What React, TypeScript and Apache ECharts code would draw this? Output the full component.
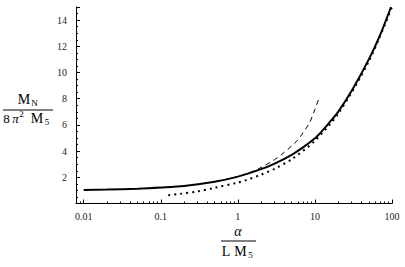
import React, { useEffect, useRef } from "react";
import * as echarts from "echarts";

// Data
const solidX = [0.01, 0.02, 0.05, 0.1, 0.2, 0.5, 1, 2, 3, 5, 7, 10, 12, 15, 20, 30, 50, 70, 97];
const solidY = [1.03, 1.06, 1.13, 1.22, 1.34, 1.66, 2.05, 2.62, 3.05, 3.72, 4.28, 4.98, 5.45, 6.1, 7.0, 8.6, 11.0, 12.85, 15.0];

const dashedX = [0.5, 1, 1.5, 2, 3, 4, 5, 6, 7, 8.5, 10, 11.5];
const dashedY = [1.66, 2.05, 2.42, 2.75, 3.35, 3.9, 4.4, 4.85, 5.4, 6.15, 7.2, 8.15];

const dottedX = [0.125, 0.17, 0.3, 0.5, 1, 1.3, 2, 3, 5, 10, 20, 50, 100];
const dottedY = [0.63, 0.72, 0.92, 1.2, 1.6, 1.8, 2.2, 2.65, 3.38, 4.8, 6.85, 10.85, 15.0];

const xMajorTicks = [0.01, 0.1, 1, 10, 100];
const xMinorTicks = [
  0.009,
  0.02, 0.03, 0.04, 0.05, 0.06, 0.07, 0.08, 0.09,
  0.2, 0.3, 0.4, 0.5, 0.6, 0.7, 0.8, 0.9,
  2, 3, 4, 5, 6, 7, 8, 9,
  20, 30, 40, 50, 60, 70, 80, 90,
];
const xMin = 0.00794;
const xMax = 100;
const yMin = 0;
const yMax = 15;
const yInterval = 2;

const FONT = "Liberation Serif";

const lg = (v: number) => Math.log10(v);
const pairs = (xs: number[], ys: number[]) => xs.map((x, i) => [lg(x), ys[i]]);

const fmtX = (v: number) => {
  const r = Math.round(v);
  const val = Math.pow(10, r);
  return r < 0 ? val.toFixed(-r) : String(val);
};

export default function App() {
  const ref = useRef<HTMLDivElement>(null);
  useEffect(() => {
    if (!ref.current) return;
    const chart = echarts.init(ref.current, undefined, { renderer: "svg" });
    const txt = (text: string, x: number, y: number, size: number, italic = false) => ({
      type: "text",
      x,
      y,
      style: {
        text,
        fontFamily: FONT,
        fontSize: size,
        fontStyle: italic ? "italic" : "normal",
        fill: "#000",
        align: "center",
        verticalAlign: "middle",
      },
    });
    chart.setOption({
      animation: false,
      backgroundColor: "#fff",
      grid: { left: 76, right: 13, top: 7, bottom: 63.5, containLabel: false },
      xAxis: [
        {
          type: "value",
          min: lg(xMin),
          max: lg(xMax),
          axisLine: { show: true, onZero: false, lineStyle: { color: "#000", width: 1 } },
          axisTick: {
            show: true,
            inside: true,
            length: 4,
            customValues: xMajorTicks.map(lg),
            lineStyle: { color: "#000" },
          },
          axisLabel: {
            customValues: xMajorTicks.map(lg),
            formatter: (v: number) => fmtX(v),
            fontFamily: FONT,
            fontSize: 10,
            color: "#222",
            margin: 8,
          },
          splitLine: { show: false },
        },
        {
          type: "value",
          position: "bottom",
          min: lg(xMin),
          max: lg(xMax),
          axisLine: { show: false, onZero: false },
          axisTick: {
            show: true,
            inside: true,
            length: 2,
            customValues: xMinorTicks.map(lg),
            lineStyle: { color: "#000" },
          },
          axisLabel: { show: false },
          splitLine: { show: false },
        },
      ],
      yAxis: {
        type: "value",
        min: yMin,
        max: yMax,
        interval: yInterval,
        axisLine: { show: true, onZero: false, lineStyle: { color: "#000", width: 1 } },
        axisTick: { show: true, inside: true, length: 4, lineStyle: { color: "#000" } },
        minorTick: { show: true, splitNumber: 4, length: 2, lineStyle: { color: "#000" } },
        axisLabel: {
          formatter: (v: number) => (v === yMin || v === yMax ? "" : String(v)),
          fontFamily: FONT,
          fontSize: 10,
          color: "#222",
          margin: 9,
        },
        splitLine: { show: false },
      },
      series: [
        {
          type: "line",
          data: pairs(dottedX, dottedY),
          showSymbol: false,
          smooth: 0.3,
          lineStyle: { color: "#000", width: 2, type: [2, 4] },
        },
        {
          type: "line",
          data: pairs(dashedX, dashedY),
          showSymbol: false,
          smooth: 0.3,
          lineStyle: { color: "#000", width: 1, type: [5, 4] },
        },
        {
          type: "line",
          data: pairs(solidX, solidY),
          showSymbol: false,
          smooth: 0.3,
          lineStyle: { color: "#000", width: 2 },
        },
      ],
      graphic: [
        // y title: M_N / (8 pi^2 M_5)
        txt("M", 24, 99, 14),
        txt("N", 34.5, 102.5, 9),
        { type: "line", shape: { x1: 3, y1: 110, x2: 53, y2: 110 }, style: { stroke: "#000", lineWidth: 1 } },
        txt("8", 6.5, 118.5, 13),
        txt("π", 15.5, 118.5, 13, true),
        txt("2", 21.5, 113.5, 9),
        txt("M", 37, 118.5, 14),
        txt("5", 47, 121.5, 9),
        // x title: alpha / (L M_5)
        txt("α", 238, 231.5, 14, true),
        { type: "line", shape: { x1: 221, y1: 241, x2: 256, y2: 241 }, style: { stroke: "#000", lineWidth: 1 } },
        txt("L", 226, 251.5, 14),
        txt("M", 240.5, 251.5, 14),
        txt("5", 250.5, 254.5, 9),
      ],
    });
    return () => chart.dispose();
  }, []);
  return (
    <div
      ref={ref}
      style={{ position: "absolute", left: 0, top: 0, width: 405, height: 267, background: "#fff" }}
    />
  );
}
